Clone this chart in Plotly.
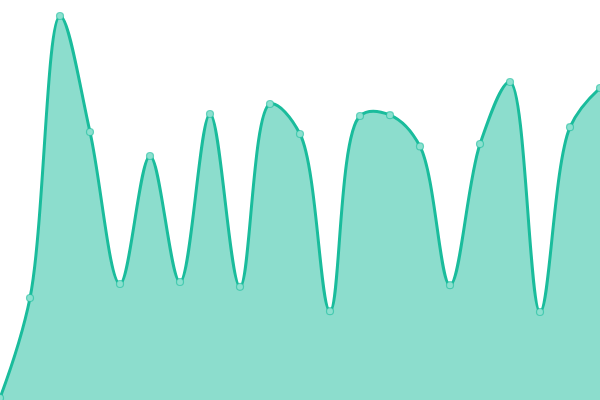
import plotly.graph_objects as go

# data (x index 0..20, y 0..100)
x_idx = list(range(21))
values = [0.5, 25.5, 96, 67, 29, 61, 29.5, 71.5, 28.3, 74, 66.5,
          22.2, 71, 71.2, 63.4, 28.7, 64, 79.5, 22, 68.2, 78]

line_color = "#1abc9c"
fill_color = "rgba(26,188,156,0.5)"

fig = go.Figure()
fig.add_trace(go.Scatter(
    x=x_idx,
    y=values,
    mode="lines+markers",
    line=dict(shape="spline", color=line_color, width=3),
    fill="tozeroy",
    fillcolor=fill_color,
    marker=dict(size=7, color="#8ce0cf",
                line=dict(color="rgba(26,188,156,0.6)", width=1.2)),
    hoverinfo="x+y",
))

fig.update_layout(
    width=600,
    height=400,
    margin=dict(l=0, r=0, t=0, b=0),
    paper_bgcolor="white",
    plot_bgcolor="white",
    showlegend=False,
    xaxis=dict(range=[0, 20], visible=False, fixedrange=True),
    yaxis=dict(range=[0, 100], visible=False, fixedrange=True),
)

# page body has a default 8px margin; drop it so the chart fills the window
fig.write_html(
    "out.html",
    config={"displayModeBar": False},
    post_script="document.body.style.margin='0';document.body.style.overflow='hidden';",
)
